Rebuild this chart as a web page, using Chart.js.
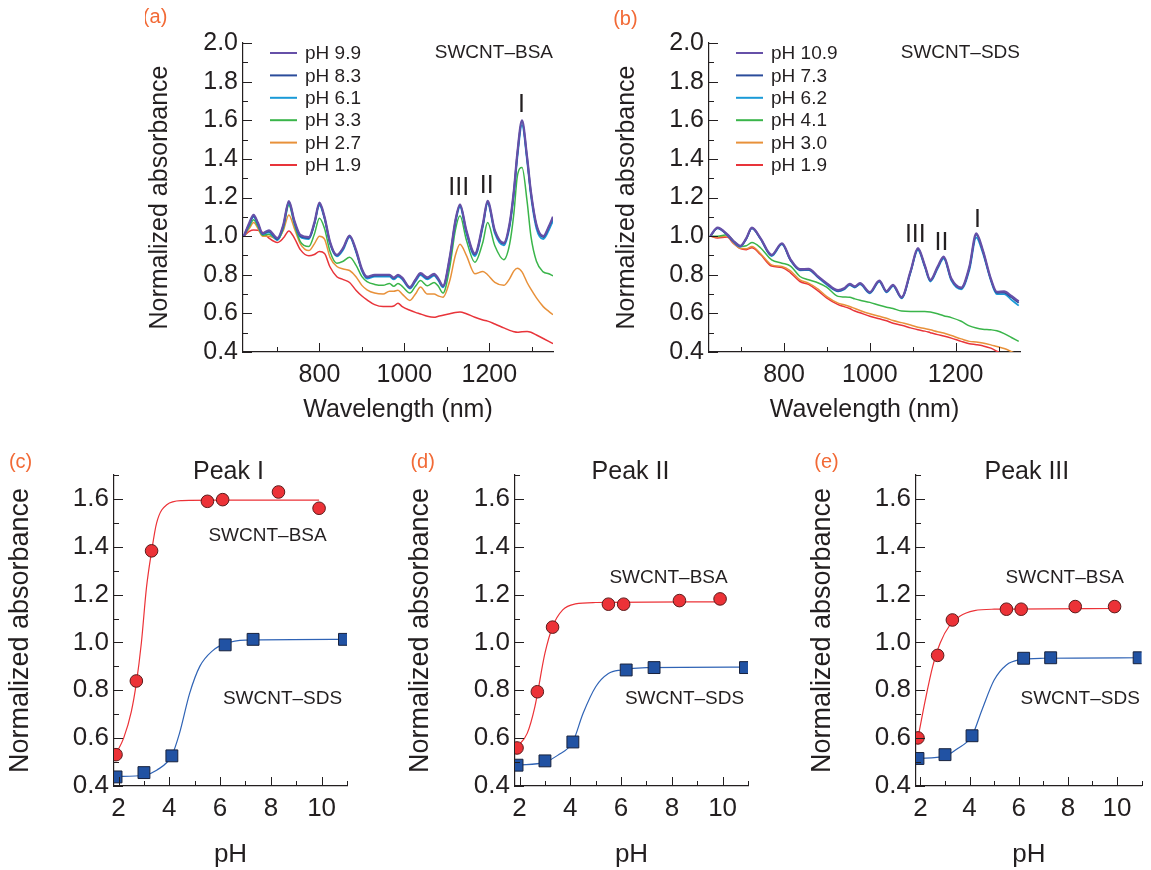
<!DOCTYPE html>
<html>
<head>
<meta charset="utf-8">
<script src="https://cdn.jsdelivr.net/npm/chart.js@4.4.1/dist/chart.umd.min.js"></script>
<style>
  html, body { margin: 0; padding: 0; background: #fff; }
  body { width: 1151px; height: 870px; position: relative; overflow: hidden; }
  .panel { position: absolute; }
</style>
</head>
<body>
<div class="panel" style="left:145px;top:0;width:425px;height:425px"><canvas id="chartA"></canvas></div>
<div class="panel" style="left:612px;top:0;width:423px;height:425px"><canvas id="chartB"></canvas></div>
<div class="panel" style="left:4px;top:440px;width:376px;height:430px"><canvas id="chartC"></canvas></div>
<div class="panel" style="left:404px;top:440px;width:376px;height:430px"><canvas id="chartD"></canvas></div>
<div class="panel" style="left:806px;top:440px;width:345px;height:430px"><canvas id="chartE"></canvas></div>
<script>
// Spectra, panel (a): SWCNT-BSA
const wavelengthA = [622, 635, 645, 655, 666, 681, 701, 715, 728, 741, 755, 775, 788, 800, 812, 825, 841, 856, 871, 886, 900, 912, 930, 950, 965, 975, 985, 995, 1013, 1026, 1038, 1054, 1070, 1080, 1091, 1107, 1120, 1131, 1146, 1166, 1185, 1196, 1213, 1234, 1248, 1258, 1266, 1277, 1289, 1298, 1311, 1327, 1340, 1350];
const absBsa99 = [1.00, 1.07, 1.11, 1.07, 1.015, 1.03, 0.99, 1.06, 1.182, 1.08, 1.006, 0.995, 1.07, 1.173, 1.10, 0.97, 0.903, 0.94, 1.003, 0.93, 0.83, 0.79, 0.80, 0.80, 0.80, 0.785, 0.80, 0.785, 0.736, 0.775, 0.808, 0.786, 0.805, 0.78, 0.743, 0.893, 1.08, 1.165, 1.03, 0.91, 1.066, 1.183, 1.03, 0.965, 1.068, 1.24, 1.43, 1.60, 1.41, 1.23, 1.06, 1.0, 1.05, 1.10];
const absBsa83 = [1.00, 1.065, 1.105, 1.065, 1.012, 1.025, 0.985, 1.055, 1.178, 1.075, 1.0, 0.99, 1.065, 1.168, 1.095, 0.965, 0.9, 0.937, 1.0, 0.925, 0.826, 0.786, 0.796, 0.797, 0.797, 0.782, 0.797, 0.782, 0.733, 0.772, 0.805, 0.782, 0.801, 0.776, 0.74, 0.888, 1.075, 1.16, 1.025, 0.905, 1.06, 1.178, 1.025, 0.96, 1.062, 1.235, 1.425, 1.595, 1.405, 1.225, 1.055, 0.995, 1.045, 1.095];
const absBsa61 = [1.00, 1.06, 1.10, 1.06, 1.01, 1.02, 0.98, 1.05, 1.17, 1.07, 0.995, 0.985, 1.06, 1.16, 1.09, 0.96, 0.895, 0.93, 0.995, 0.92, 0.82, 0.78, 0.79, 0.79, 0.79, 0.776, 0.79, 0.776, 0.728, 0.765, 0.798, 0.776, 0.795, 0.77, 0.735, 0.88, 1.065, 1.15, 1.015, 0.897, 1.05, 1.168, 1.015, 0.952, 1.05, 1.22, 1.405, 1.575, 1.39, 1.21, 1.04, 0.985, 1.03, 1.08];
const absBsa33 = [1.00, 1.05, 1.085, 1.05, 1.005, 1.01, 0.98, 1.04, 1.16, 1.06, 0.972, 0.946, 1.01, 1.093, 1.04, 0.92, 0.86, 0.87, 0.89, 0.85, 0.79, 0.765, 0.75, 0.745, 0.755, 0.74, 0.755, 0.74, 0.705, 0.74, 0.77, 0.743, 0.76, 0.74, 0.705, 0.84, 1.03, 1.105, 0.98, 0.865, 0.97, 1.07, 0.95, 0.878, 0.96, 1.12, 1.31, 1.355, 1.18, 1.0, 0.87, 0.815, 0.805, 0.795];
const absBsa27 = [1.00, 1.04, 1.07, 1.04, 1.0, 1.0, 0.984, 1.03, 1.11, 1.04, 0.96, 0.925, 0.96, 1.0, 0.985, 0.89, 0.843, 0.83, 0.822, 0.79, 0.745, 0.722, 0.705, 0.70, 0.715, 0.715, 0.72, 0.70, 0.667, 0.70, 0.736, 0.70, 0.70, 0.69, 0.684, 0.77, 0.90, 0.958, 0.90, 0.805, 0.817, 0.80, 0.76, 0.745, 0.78, 0.82, 0.834, 0.815, 0.76, 0.725, 0.68, 0.635, 0.61, 0.593];
const absBsa19 = [1.00, 1.025, 1.032, 1.03, 1.02, 0.99, 0.967, 0.99, 1.027, 0.99, 0.93, 0.898, 0.905, 0.92, 0.91, 0.84, 0.79, 0.775, 0.76, 0.72, 0.69, 0.67, 0.645, 0.635, 0.635, 0.638, 0.652, 0.635, 0.616, 0.605, 0.597, 0.585, 0.58, 0.585, 0.59, 0.598, 0.605, 0.607, 0.598, 0.58, 0.566, 0.56, 0.545, 0.525, 0.512, 0.505, 0.502, 0.505, 0.506, 0.502, 0.488, 0.47, 0.455, 0.443];

// Spectra, panel (b): SWCNT-SDS
const wavelengthB = [628, 645, 667, 682, 698, 712, 725, 745, 771, 795, 815, 837, 857, 880, 899, 926, 940, 953, 965, 977, 1000, 1022, 1039, 1054, 1074, 1095, 1112, 1128, 1141, 1158, 1172, 1190, 1213, 1232, 1248, 1263, 1282, 1296, 1313, 1330, 1347];
const absSds109 = [1.0, 1.044, 1.01, 0.975, 0.95, 0.99, 1.044, 0.99, 0.903, 0.963, 0.88, 0.829, 0.83, 0.79, 0.757, 0.72, 0.73, 0.753, 0.74, 0.757, 0.71, 0.77, 0.715, 0.748, 0.684, 0.82, 0.938, 0.85, 0.773, 0.842, 0.894, 0.78, 0.733, 0.842, 1.014, 0.93, 0.78, 0.712, 0.714, 0.69, 0.662];
const absSds73 = [1.0, 1.042, 1.008, 0.973, 0.948, 0.988, 1.042, 0.988, 0.9, 0.96, 0.877, 0.826, 0.827, 0.787, 0.754, 0.717, 0.727, 0.75, 0.737, 0.754, 0.707, 0.767, 0.712, 0.745, 0.681, 0.817, 0.934, 0.846, 0.77, 0.838, 0.89, 0.776, 0.73, 0.836, 1.008, 0.925, 0.775, 0.706, 0.708, 0.683, 0.655];
const absSds62 = [1.0, 1.04, 1.006, 0.97, 0.945, 0.985, 1.04, 0.985, 0.897, 0.957, 0.874, 0.823, 0.824, 0.784, 0.75, 0.714, 0.724, 0.747, 0.734, 0.75, 0.704, 0.763, 0.709, 0.741, 0.678, 0.812, 0.928, 0.84, 0.765, 0.832, 0.884, 0.77, 0.725, 0.825, 0.993, 0.915, 0.77, 0.70, 0.70, 0.67, 0.64];
const absSds41 = [1.0, 1.0, 1.007, 0.975, 0.946, 0.95, 0.967, 0.94, 0.877, 0.86, 0.845, 0.791, 0.774, 0.757, 0.736, 0.688, 0.685, 0.683, 0.675, 0.668, 0.657, 0.642, 0.632, 0.625, 0.612, 0.61, 0.61, 0.61, 0.607, 0.598, 0.588, 0.578, 0.559, 0.535, 0.524, 0.518, 0.515, 0.51, 0.495, 0.475, 0.455];
const absSds30 = [1.0, 0.995, 1.0, 0.965, 0.937, 0.935, 0.946, 0.91, 0.851, 0.843, 0.82, 0.774, 0.757, 0.725, 0.688, 0.653, 0.645, 0.636, 0.625, 0.615, 0.598, 0.585, 0.575, 0.563, 0.552, 0.54, 0.528, 0.522, 0.515, 0.505, 0.498, 0.485, 0.468, 0.455, 0.452, 0.447, 0.437, 0.428, 0.418, 0.402, 0.385];
const absSds19 = [1.0, 0.99, 0.995, 0.962, 0.935, 0.93, 0.94, 0.905, 0.845, 0.838, 0.81, 0.765, 0.75, 0.715, 0.68, 0.645, 0.635, 0.625, 0.612, 0.603, 0.585, 0.572, 0.562, 0.549, 0.538, 0.525, 0.515, 0.508, 0.5, 0.49, 0.483, 0.472, 0.455, 0.443, 0.438, 0.432, 0.42, 0.404, 0.385, 0.37, 0.355];

// Peak absorbance vs pH, panels (c)-(e)
const phBsa = [1.9, 2.7, 3.3, 5.5, 6.1, 8.3, 9.9];
const phSds = [1.9, 3.0, 4.1, 6.2, 7.3, 10.9];
const peak1Bsa = [0.531, 0.839, 1.383, 1.590, 1.597, 1.629, 1.561];
const peak1Sds = [0.438, 0.456, 0.526, 0.990, 1.013, 1.013];
const peak2Bsa = [0.559, 0.794, 1.064, 1.160, 1.160, 1.175, 1.182];
const peak2Sds = [0.487, 0.505, 0.584, 0.885, 0.895, 0.895];
const peak3Bsa = [0.601, 0.946, 1.094, 1.139, 1.139, 1.150, 1.150];
const peak3Sds = [0.515, 0.531, 0.610, 0.934, 0.936, 0.936];

// Fitted curves
const fit1BsaPH = [1.9, 2.2, 2.5, 2.7, 2.9, 3.1, 3.3, 3.5, 3.9, 4.5, 6, 9.9];
const fit1Bsa = [0.535, 0.60, 0.71, 0.83, 1.0, 1.23, 1.38, 1.50, 1.576, 1.593, 1.595, 1.595];
const fit1SdsPH = [1.9, 3.0, 3.5, 4.1, 4.4, 4.8, 5.2, 5.7, 6.2, 7.0, 10.9];
const fit1Sds = [0.44, 0.445, 0.466, 0.528, 0.62, 0.787, 0.9, 0.965, 0.995, 1.01, 1.013];
const fit2BsaPH = [1.9, 2.3, 2.6, 3.0, 3.3, 3.7, 4.2, 5.0, 9.9];
const fit2Bsa = [0.563, 0.62, 0.73, 0.955, 1.066, 1.136, 1.161, 1.167, 1.17];
const fit2SdsPH = [1.9, 3.0, 3.5, 4.1, 4.5, 5.0, 5.5, 6.0, 7.0, 10.9];
const fit2Sds = [0.487, 0.50, 0.528, 0.585, 0.703, 0.815, 0.87, 0.885, 0.895, 0.897];
const fit3BsaPH = [1.9, 2.2, 2.5, 2.8, 3.2, 3.6, 4.2, 5.0, 9.9];
const fit3Bsa = [0.60, 0.76, 0.90, 0.997, 1.073, 1.11, 1.133, 1.139, 1.142];
const fit3SdsPH = [1.9, 3.0, 3.5, 4.1, 4.5, 5.0, 5.5, 6.0, 7.0, 10.9];
const fit3Sds = [0.515, 0.525, 0.556, 0.61, 0.717, 0.843, 0.906, 0.927, 0.934, 0.936];

// Tick values
const wlLabels = [800, 1000, 1200];
const wlMinor = [700, 900, 1100, 1300];
const absLabelsTop = [0.4, 0.6, 0.8, 1.0, 1.2, 1.4, 1.6, 1.8, 2.0];
const absMinorTop = [0.5, 0.7, 0.9, 1.1, 1.3, 1.5, 1.7, 1.9];
const phLabels = [2, 4, 6, 8, 10];
const phMinor = [3, 5, 7, 9, 11];
const absLabelsBottom = [0.4, 0.6, 0.8, 1.0, 1.2, 1.4, 1.6];
const absMinorBottom = [0.5, 0.7, 0.9, 1.1, 1.3, 1.5, 1.7];

const FONT = '"Liberation Sans", Arial, Helvetica, sans-serif';
const INK = '#231f20';
const ORANGE = '#f26a36';
Chart.defaults.font.family = FONT;
Chart.defaults.color = INK;

const xy = (xs, ys) => xs.map((x, i) => ({ x: x, y: ys[i] }));

// Tick marks pointing into the plot area
const innerTicks = {
  id: 'innerTicks',
  afterDraw(chart, args, o) {
    const { ctx, chartArea: a, scales } = chart;
    ctx.save();
    ctx.strokeStyle = INK;
    ctx.lineWidth = 1;
    ctx.beginPath();
    const markX = (list, len) => list.forEach(v => {
      const p = Math.round(scales.x.getPixelForValue(v)) + 0.5;
      ctx.moveTo(p, a.bottom); ctx.lineTo(p, a.bottom - len);
    });
    const markY = (list, len) => list.forEach(v => {
      const p = Math.round(scales.y.getPixelForValue(v)) + 0.5;
      ctx.moveTo(a.left, p); ctx.lineTo(a.left + len, p);
    });
    markX(o.xMajor, 9); markX(o.xMinor, 5);
    markY(o.yMajor, 9); markY(o.yMinor, 5);
    ctx.stroke();
    ctx.restore();
  }
};

// Free text (labels at data coordinates) and an in-plot legend
const annotate = {
  id: 'annotate',
  afterDraw(chart, args, o) {
    const { ctx, chartArea: a, scales } = chart;
    ctx.save();
    ctx.textBaseline = 'middle';
    (o.texts || []).forEach(t => {
      ctx.font = t.size + 'px ' + FONT;
      ctx.fillStyle = t.color || INK;
      ctx.textAlign = t.align || 'center';
      ctx.fillText(t.text, scales.x.getPixelForValue(t.x), scales.y.getPixelForValue(t.y));
    });
    if (o.legend) {
      ctx.font = '19px ' + FONT;
      ctx.textAlign = 'left';
      chart.data.datasets.forEach((ds, i) => {
        const yy = a.top + 10 + i * 22.4;
        ctx.strokeStyle = ds.borderColor;
        ctx.lineWidth = 2;
        ctx.beginPath();
        ctx.moveTo(a.left + 27, yy); ctx.lineTo(a.left + 54, yy);
        ctx.stroke();
        ctx.fillStyle = INK;
        ctx.fillText(ds.label, a.left + 62, yy + 1);
      });
    }
    ctx.restore();
  }
};

const seriesColors = ['#6650a8', '#2b4c9b', '#1a9ad7', '#3ab54a', '#e8913a', '#e8343a'];
const seriesWidths = [2.2, 1.8, 1.8, 1.5, 1.5, 1.5];

function spectrumChart(id, wl, series, labels, xMin, yWidth, padRight, texts) {
  return new Chart(document.getElementById(id), {
    type: 'line',
    data: {
      datasets: series.map((s, i) => ({
        label: labels[i],
        data: xy(wl, s),
        borderColor: seriesColors[i],
        borderWidth: seriesWidths[i],
        pointRadius: 0,
        cubicInterpolationMode: 'monotone',
        fill: false
      }))
    },
    options: {
      responsive: true,
      maintainAspectRatio: false,
      animation: false,
      events: [],
      layout: { padding: { top: 43, right: padRight, left: 0, bottom: 0 } },
      scales: {
        x: {
          type: 'linear', min: xMin, max: 1350,
          grid: { display: false, drawTicks: false },
          border: { display: true, color: INK, width: 1.2 },
          afterBuildTicks: s => { s.ticks = wlLabels.map(v => ({ value: v })); },
          afterFit: s => { s.height = 73; },
          ticks: { font: { size: 25 }, padding: 8, maxRotation: 0, callback: v => String(v) },
          title: { display: true, text: 'Wavelength (nm)', font: { size: 25 }, padding: 0 }
        },
        y: {
          min: 0.4, max: 2.0,
          grid: { display: false, drawTicks: false },
          border: { display: true, color: INK, width: 1.2 },
          afterBuildTicks: s => { s.ticks = absLabelsTop.map(v => ({ value: v })); },
          afterFit: s => { s.width = yWidth; },
          ticks: { font: { size: 25 }, padding: 5, callback: v => v.toFixed(1) },
          title: { display: true, text: 'Normalized absorbance', font: { size: 25 }, padding: 0 }
        }
      },
      plugins: {
        legend: { display: false },
        tooltip: { enabled: false },
        innerTicks: { xMajor: wlLabels, xMinor: wlMinor, yMajor: absLabelsTop, yMinor: absMinorTop },
        annotate: { texts: texts, legend: true }
      }
    },
    plugins: [innerTicks, annotate]
  });
}

function peakChart(id, bsa, sds, fitBsaPH, fitBsa, fitSdsPH, fitSds, yWidth, padRight, texts) {
  return new Chart(document.getElementById(id), {
    type: 'line',
    data: {
      datasets: [
        { label: 'SWCNT-BSA', data: xy(phBsa, bsa), showLine: false, pointStyle: 'circle', pointRadius: 6.3,
          backgroundColor: '#ec3237', borderColor: '#5a1c1c', borderWidth: 1 },
        { label: 'SWCNT-SDS', data: xy(phSds, sds), showLine: false, pointStyle: 'rect', pointRadius: 8.4,
          backgroundColor: '#2152a3', borderColor: '#18223d', borderWidth: 1 },
        { label: 'BSA fit', data: xy(fitBsaPH, fitBsa), borderColor: '#ec3237', borderWidth: 1.2,
          pointRadius: 0, cubicInterpolationMode: 'monotone' },
        { label: 'SDS fit', data: xy(fitSdsPH, fitSds), borderColor: '#2f63b5', borderWidth: 1.2,
          pointRadius: 0, cubicInterpolationMode: 'monotone' }
      ]
    },
    options: {
      responsive: true,
      maintainAspectRatio: false,
      animation: false,
      events: [],
      layout: { padding: { top: 35, right: padRight, left: 0, bottom: 0 } },
      scales: {
        x: {
          type: 'linear', min: 1.82, max: 11,
          grid: { display: false, drawTicks: false },
          border: { display: true, color: INK, width: 1.2 },
          afterBuildTicks: s => { s.ticks = phLabels.map(v => ({ value: v })); },
          afterFit: s => { s.height = 84; },
          ticks: { font: { size: 26 }, padding: 7, maxRotation: 0, callback: v => String(v) },
          title: { display: true, text: 'pH', font: { size: 26 }, padding: 0 }
        },
        y: {
          min: 0.4, max: 1.7,
          grid: { display: false, drawTicks: false },
          border: { display: true, color: INK, width: 1.2 },
          afterBuildTicks: s => { s.ticks = absLabelsBottom.map(v => ({ value: v })); },
          afterFit: s => { s.width = yWidth; },
          ticks: { font: { size: 26 }, padding: 5, callback: v => v.toFixed(1) },
          title: { display: true, text: 'Normalized absorbance', font: { size: 27 }, padding: 0 }
        }
      },
      plugins: {
        legend: { display: false },
        tooltip: { enabled: false },
        innerTicks: { xMajor: phLabels, xMinor: phMinor, yMajor: absLabelsBottom, yMinor: absMinorBottom },
        annotate: { texts: texts, legend: false }
      }
    },
    plugins: [innerTicks, annotate]
  });
}

spectrumChart('chartA', wavelengthA,
  [absBsa99, absBsa83, absBsa61, absBsa33, absBsa27, absBsa19],
  ['pH 9.9', 'pH 8.3', 'pH 6.1', 'pH 3.3', 'pH 2.7', 'pH 1.9'],
  620, 98, 17,
  [
    { text: '(a)', x: 413, y: 2.13, size: 20, color: ORANGE },
    { text: 'SWCNT\u2013BSA', x: 1350, y: 1.948, size: 19, align: 'right' },
    { text: 'I', x: 1276, y: 1.679, size: 25 },
    { text: 'II', x: 1194, y: 1.259, size: 25 },
    { text: 'III', x: 1128, y: 1.249, size: 25 }
  ]);

spectrumChart('chartB', wavelengthB,
  [absSds109, absSds73, absSds62, absSds41, absSds30, absSds19],
  ['pH 10.9', 'pH 7.3', 'pH 6.2', 'pH 4.1', 'pH 3.0', 'pH 1.9'],
  625, 97, 15,
  [
    { text: '(b)', x: 430, y: 2.12, size: 20, color: ORANGE },
    { text: 'SWCNT\u2013SDS', x: 1350, y: 1.948, size: 19, align: 'right' },
    { text: 'I', x: 1251, y: 1.083, size: 25 },
    { text: 'II', x: 1167, y: 0.964, size: 25 },
    { text: 'III', x: 1106, y: 1.006, size: 25 }
  ]);

peakChart('chartC', peak1Bsa, peak1Sds, fit1BsaPH, fit1Bsa, fit1SdsPH, fit1Sds, 110, 33, [
  { text: '(c)', x: -1.86, y: 1.752, size: 20, color: ORANGE },
  { text: 'Peak I', x: 6.33, y: 1.71, size: 25 },
  { text: 'SWCNT\u2013BSA', x: 7.87, y: 1.446, size: 19 },
  { text: 'SWCNT\u2013SDS', x: 8.46, y: 0.763, size: 19 }
]);

peakChart('chartD', peak2Bsa, peak2Sds, fit2BsaPH, fit2Bsa, fit2SdsPH, fit2Sds, 111, 32, [
  { text: '(d)', x: -1.82, y: 1.752, size: 20, color: ORANGE },
  { text: 'Peak II', x: 6.37, y: 1.71, size: 25 },
  { text: 'SWCNT\u2013BSA', x: 7.87, y: 1.27, size: 19 },
  { text: 'SWCNT\u2013SDS', x: 8.5, y: 0.763, size: 19 }
]);

peakChart('chartE', peak3Bsa, peak3Sds, fit3BsaPH, fit3Bsa, fit3SdsPH, fit3Sds, 110, 2, [
  { text: '(e)', x: -1.82, y: 1.752, size: 20, color: ORANGE },
  { text: 'Peak III', x: 6.33, y: 1.71, size: 25 },
  { text: 'SWCNT\u2013BSA', x: 7.87, y: 1.27, size: 19 },
  { text: 'SWCNT\u2013SDS', x: 8.5, y: 0.763, size: 19 }
]);
</script>
</body>
</html>
